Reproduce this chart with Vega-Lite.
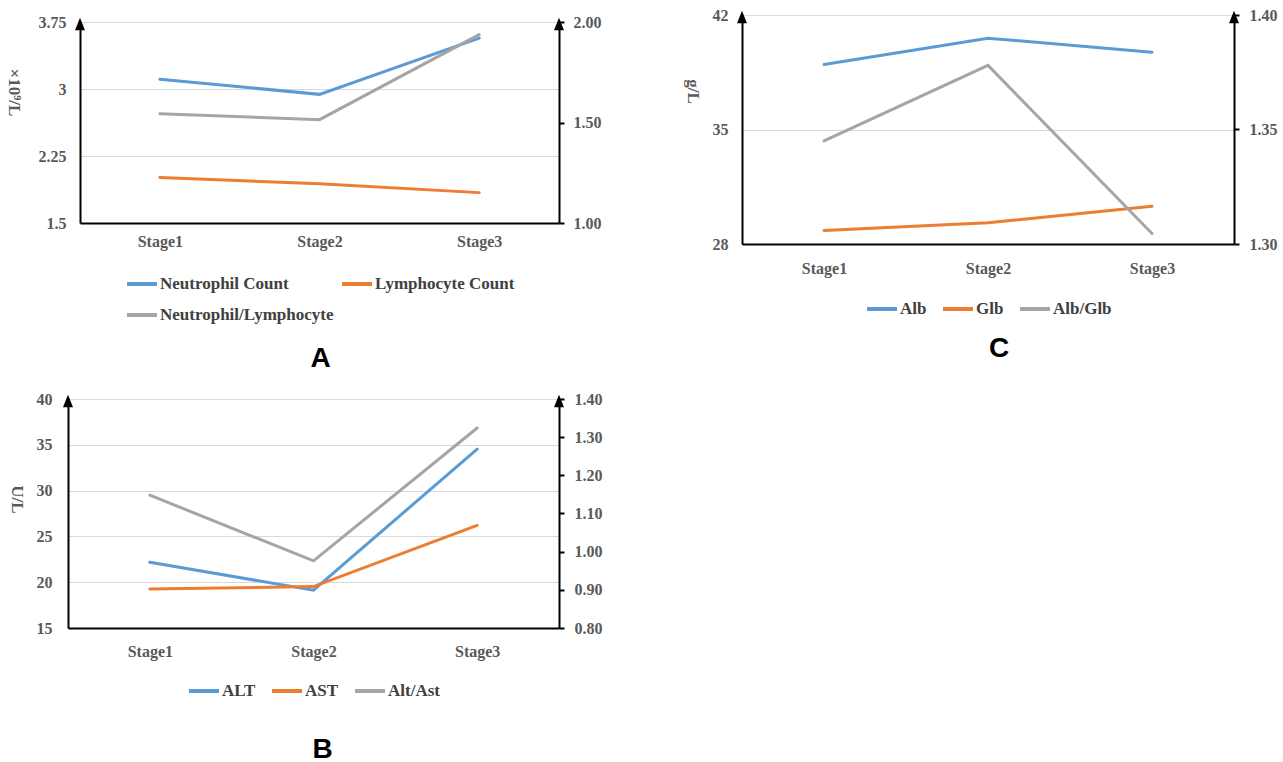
{
  "$schema": "https://vega.github.io/schema/vega-lite/v6.json",
  "background": "white",
  "padding": {"left": 4, "top": 7, "right": 5, "bottom": 5},
  "columns": 1,
  "spacing": 18,
  "resolve": {"scale": {"color": "independent"}, "legend": {"color": "independent"}},
  "config": {
    "view": {"stroke": null},
    "axis": {"labelFont": "Liberation Serif", "labelFontWeight": "bold", "labelFontSize": 16, "labelColor": "#595959", "titleFont": "Liberation Serif", "titleFontWeight": "bold", "titleFontSize": 17, "titleColor": "#595959", "domainColor": "#000", "domainWidth": 2},
    "legend": {"labelFont": "Liberation Serif", "labelFontWeight": "bold", "labelFontSize": 17, "labelColor": "#404040", "labelLimit": 400, "symbolType": "stroke", "symbolStrokeWidth": 4, "symbolSize": 900, "labelOffset": 1, "columnPadding": 8, "rowPadding": 6, "orient": "bottom", "direction": "horizontal", "title": null, "layout": {"bottom": {"anchor": "middle"}}},
    "title": {"font": "Liberation Sans", "fontSize": 28, "fontWeight": "bold", "color": "#000", "orient": "bottom", "frame": "group", "offset": 20}
  },
  "concat": [
    {
      "hconcat": [
        {
          "hconcat": [
            {"width": 1, "height": 1, "data": {"values": []}, "mark": "point", "encoding": {}},
            {
              "vconcat": [
                {"width": 1, "height": 1, "data": {"values": []}, "mark": "point", "encoding": {}},
                {
                  "width": 479, "height": 201,
                  "title": {"text": "A", "dx": 1, "offset": 22},
                  "data": {"values": [
                    {"stage": "Stage1", "series": "Neutrophil Count", "value": 3.11, "axis": "left"},
                    {"stage": "Stage2", "series": "Neutrophil Count", "value": 2.94, "axis": "left"},
                    {"stage": "Stage3", "series": "Neutrophil Count", "value": 3.57, "axis": "left"},
                    {"stage": "Stage1", "series": "Lymphocyte Count", "value": 2.01, "axis": "left"},
                    {"stage": "Stage2", "series": "Lymphocyte Count", "value": 1.94, "axis": "left"},
                    {"stage": "Stage3", "series": "Lymphocyte Count", "value": 1.84, "axis": "left"},
                    {"stage": "Stage1", "series": "Neutrophil/Lymphocyte", "value": 1.544, "axis": "right"},
                    {"stage": "Stage2", "series": "Neutrophil/Lymphocyte", "value": 1.514, "axis": "right"},
                    {"stage": "Stage3", "series": "Neutrophil/Lymphocyte", "value": 1.937, "axis": "right"}
                  ]},
                  "layer": [
                    {
                      "transform": [{"filter": "datum.axis === 'left'"}],
                      "mark": {"type": "line", "strokeWidth": 3, "strokeCap": "round"},
                      "encoding": {
                        "x": {"field": "stage", "type": "ordinal", "scale": {"domain": ["Stage1", "Stage2", "Stage3"], "padding": 0.5}, "axis": {"title": null, "labelAngle": 0, "ticks": false, "grid": false, "labelPadding": 10}},
                        "y": {"field": "value", "type": "quantitative", "scale": {"domain": [1.5, 3.75], "nice": false, "zero": false}, "axis": {"title": "×10⁹/L", "values": [1.5, 2.25, 3, 3.75], "format": ".3~g", "ticks": false, "grid": true, "gridColor": "#d9d9d9", "labelPadding": 14, "titleAngle": 90, "titleX": -67, "titleY": 70, "titleAlign": "center", "titleBaseline": "middle"}},
                        "color": {"field": "series", "type": "nominal", "scale": {"domain": ["Neutrophil Count", "Lymphocyte Count", "Neutrophil/Lymphocyte"], "range": ["#5B9BD5", "#ED7D31", "#A5A5A5"]}, "legend": {"columns": 2, "columnPadding": 0}}
                      }
                    },
                    {
                      "transform": [{"filter": "datum.axis === 'right'"}],
                      "mark": {"type": "line", "strokeWidth": 3, "strokeCap": "round"},
                      "encoding": {
                        "x": {"field": "stage", "type": "ordinal", "scale": {"domain": ["Stage1", "Stage2", "Stage3"], "padding": 0.5}, "axis": null},
                        "y": {"field": "value", "type": "quantitative", "scale": {"domain": [1, 2], "nice": false, "zero": false}, "axis": {"orient": "right", "title": null, "values": [1, 1.5, 2], "format": ".2f", "grid": false, "ticks": true, "tickColor": "#000", "tickSize": 5, "tickWidth": 2, "labelPadding": 9}},
                        "color": {"field": "series", "type": "nominal", "scale": {"domain": ["Neutrophil Count", "Lymphocyte Count", "Neutrophil/Lymphocyte"], "range": ["#5B9BD5", "#ED7D31", "#A5A5A5"]}}
                      }
                    },
                    {
                      "data": {"values": [{"pos": 0}, {"pos": 1}]},
                      "mark": {"type": "point", "shape": "M0,-1L-0.8,1L0.8,1Z", "filled": true, "color": "#000", "opacity": 1, "size": 156, "yOffset": 2},
                      "encoding": {
                        "x": {"field": "pos", "type": "quantitative", "scale": {"domain": [0, 1]}, "axis": null},
                        "y": {"datum": 1, "type": "quantitative", "scale": {"domain": [0, 1]}, "axis": null}
                      }
                    }
                  ],
                  "resolve": {"scale": {"x": "independent", "y": "independent"}}
                }
              ],
              "spacing": -2,
              "resolve": {"scale": {"color": "independent"}, "legend": {"color": "independent"}}
            }
          ],
          "spacing": 0,
          "resolve": {"scale": {"color": "independent"}, "legend": {"color": "independent"}}
        },
        {
          "width": 492, "height": 229,
          "title": {"text": "C", "dx": 11, "offset": 18},
          "data": {"values": [
            {"stage": "Stage1", "series": "Alb", "value": 38.97, "axis": "left"},
            {"stage": "Stage2", "series": "Alb", "value": 40.58, "axis": "left"},
            {"stage": "Stage3", "series": "Alb", "value": 39.73, "axis": "left"},
            {"stage": "Stage1", "series": "Glb", "value": 28.83, "axis": "left"},
            {"stage": "Stage2", "series": "Glb", "value": 29.3, "axis": "left"},
            {"stage": "Stage3", "series": "Glb", "value": 30.31, "axis": "left"},
            {"stage": "Stage1", "series": "Alb/Glb", "value": 1.345, "axis": "right"},
            {"stage": "Stage2", "series": "Alb/Glb", "value": 1.378, "axis": "right"},
            {"stage": "Stage3", "series": "Alb/Glb", "value": 1.3046, "axis": "right"}
          ]},
          "layer": [
            {
              "transform": [{"filter": "datum.axis === 'left'"}],
              "mark": {"type": "line", "strokeWidth": 3, "strokeCap": "round"},
              "encoding": {
                "x": {"field": "stage", "type": "ordinal", "scale": {"domain": ["Stage1", "Stage2", "Stage3"], "padding": 0.5}, "axis": {"title": null, "labelAngle": 0, "ticks": false, "grid": false, "labelPadding": 16}},
                "y": {"field": "value", "type": "quantitative", "scale": {"domain": [28, 42], "nice": false, "zero": false}, "axis": {"title": "g/L", "values": [28, 35, 42], "ticks": false, "grid": true, "gridColor": "#d9d9d9", "labelPadding": 14, "titleAngle": 90, "titleX": -50, "titleY": 76, "titleAlign": "center", "titleBaseline": "middle"}},
                "color": {"field": "series", "type": "nominal", "scale": {"domain": ["Alb", "Glb", "Alb/Glb"], "range": ["#5B9BD5", "#ED7D31", "#A5A5A5"]}, "legend": {"offset": 16}}
              }
            },
            {
              "transform": [{"filter": "datum.axis === 'right'"}],
              "mark": {"type": "line", "strokeWidth": 3, "strokeCap": "round"},
              "encoding": {
                "x": {"field": "stage", "type": "ordinal", "scale": {"domain": ["Stage1", "Stage2", "Stage3"], "padding": 0.5}, "axis": null},
                "y": {"field": "value", "type": "quantitative", "scale": {"domain": [1.3, 1.4], "nice": false, "zero": false}, "axis": {"orient": "right", "title": null, "values": [1.3, 1.35, 1.4], "format": ".2f", "grid": false, "ticks": true, "tickColor": "#000", "tickSize": 5, "tickWidth": 2, "labelPadding": 10}},
                "color": {"field": "series", "type": "nominal", "scale": {"domain": ["Alb", "Glb", "Alb/Glb"], "range": ["#5B9BD5", "#ED7D31", "#A5A5A5"]}}
              }
            },
            {
              "data": {"values": [{"pos": 0}, {"pos": 1}]},
              "mark": {"type": "point", "shape": "M0,-1L-0.8,1L0.8,1Z", "filled": true, "color": "#000", "opacity": 1, "size": 156, "yOffset": 2},
              "encoding": {
                "x": {"field": "pos", "type": "quantitative", "scale": {"domain": [0, 1]}, "axis": null},
                "y": {"datum": 1, "type": "quantitative", "scale": {"domain": [0, 1]}, "axis": null}
              }
            }
          ],
          "resolve": {"scale": {"x": "independent", "y": "independent"}}
        }
      ],
      "spacing": 83,
      "resolve": {"scale": {"color": "independent"}, "legend": {"color": "independent"}}
    },
    {
      "hconcat": [
        {"width": 1, "height": 1, "data": {"values": []}, "mark": "point", "encoding": {}},
        {
          "width": 491, "height": 229,
          "title": {"text": "B", "dx": 9, "offset": 37},
          "data": {"values": [
            {"stage": "Stage1", "series": "ALT", "value": 22.17, "axis": "left"},
            {"stage": "Stage2", "series": "ALT", "value": 19.13, "axis": "left"},
            {"stage": "Stage3", "series": "ALT", "value": 34.53, "axis": "left"},
            {"stage": "Stage1", "series": "AST", "value": 19.27, "axis": "left"},
            {"stage": "Stage2", "series": "AST", "value": 19.52, "axis": "left"},
            {"stage": "Stage3", "series": "AST", "value": 26.2, "axis": "left"},
            {"stage": "Stage1", "series": "Alt/Ast", "value": 1.148, "axis": "right"},
            {"stage": "Stage2", "series": "Alt/Ast", "value": 0.976, "axis": "right"},
            {"stage": "Stage3", "series": "Alt/Ast", "value": 1.324, "axis": "right"}
          ]},
          "layer": [
            {
              "transform": [{"filter": "datum.axis === 'left'"}],
              "mark": {"type": "line", "strokeWidth": 3, "strokeCap": "round"},
              "encoding": {
                "x": {"field": "stage", "type": "ordinal", "scale": {"domain": ["Stage1", "Stage2", "Stage3"], "padding": 0.5}, "axis": {"title": null, "labelAngle": 0, "ticks": false, "grid": false, "labelPadding": 15}},
                "y": {"field": "value", "type": "quantitative", "scale": {"domain": [15, 40], "nice": false, "zero": false}, "axis": {"title": "U/L", "values": [15, 20, 25, 30, 35, 40], "ticks": false, "grid": true, "gridColor": "#d9d9d9", "labelPadding": 16, "titleAngle": 90, "titleX": -52, "titleY": 100, "titleAlign": "center", "titleBaseline": "middle"}},
                "color": {"field": "series", "type": "nominal", "scale": {"domain": ["ALT", "AST", "Alt/Ast"], "range": ["#5B9BD5", "#ED7D31", "#A5A5A5"]}, "legend": {"offset": 15}}
              }
            },
            {
              "transform": [{"filter": "datum.axis === 'right'"}],
              "mark": {"type": "line", "strokeWidth": 3, "strokeCap": "round"},
              "encoding": {
                "x": {"field": "stage", "type": "ordinal", "scale": {"domain": ["Stage1", "Stage2", "Stage3"], "padding": 0.5}, "axis": null},
                "y": {"field": "value", "type": "quantitative", "scale": {"domain": [0.8, 1.4], "nice": false, "zero": false}, "axis": {"orient": "right", "title": null, "values": [0.8, 0.9, 1.0, 1.1, 1.2, 1.3, 1.4], "format": ".2f", "grid": false, "ticks": true, "tickColor": "#000", "tickSize": 5, "tickWidth": 2, "labelPadding": 10}},
                "color": {"field": "series", "type": "nominal", "scale": {"domain": ["ALT", "AST", "Alt/Ast"], "range": ["#5B9BD5", "#ED7D31", "#A5A5A5"]}}
              }
            },
            {
              "data": {"values": [{"pos": 0}, {"pos": 1}]},
              "mark": {"type": "point", "shape": "M0,-1L-0.8,1L0.8,1Z", "filled": true, "color": "#000", "opacity": 1, "size": 156, "yOffset": 2},
              "encoding": {
                "x": {"field": "pos", "type": "quantitative", "scale": {"domain": [0, 1]}, "axis": null},
                "y": {"datum": 1, "type": "quantitative", "scale": {"domain": [0, 1]}, "axis": null}
              }
            }
          ],
          "resolve": {"scale": {"x": "independent", "y": "independent"}}
        }
      ],
      "spacing": 3,
      "resolve": {"scale": {"color": "independent"}, "legend": {"color": "independent"}}
    }
  ]
}
